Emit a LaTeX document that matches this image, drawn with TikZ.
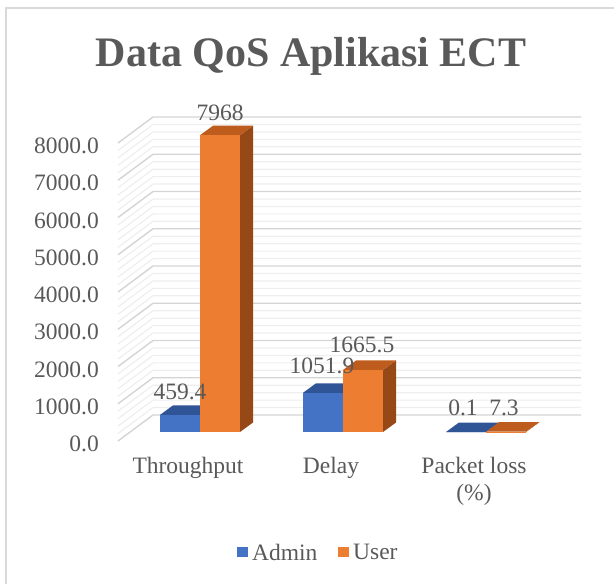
\documentclass[tikz,border=0pt]{standalone}
\usepackage{fontspec}
\setmainfont{Liberation Serif}
\definecolor{txt}{RGB}{89,89,89}
\definecolor{frame}{RGB}{217,217,217}
\definecolor{gmajor}{RGB}{212,212,212}
\definecolor{gminor}{RGB}{238,238,238}
\definecolor{bfront}{RGB}{68,114,196}
\definecolor{btop}{RGB}{47,85,151}
\definecolor{bside}{RGB}{38,68,120}
\definecolor{ofront}{RGB}{237,125,49}
\definecolor{otop}{RGB}{190,92,30}
\definecolor{oside}{RGB}{150,72,22}
\tikzset{
  lbl/.style={text=txt, font=\fontsize{23.5}{27}\selectfont, inner sep=0pt},
  ttl/.style={text=txt, font=\fontsize{42}{48}\selectfont\bfseries, inner sep=0pt},
  majorline/.style={draw=gmajor, line width=1.4pt},
  minorline/.style={draw=gminor, line width=1.2pt},
}
% one 3D column: #1 front-bottom-left x, #2 value, #3 front, #4 top, #5 side
\newcommand{\columnbar}[5]{%
  \pgfmathsetmacro{\hh}{#2*0.03725}%
  \pgfmathsetmacro{\xr}{#1+40}%
  \fill[#5] (\xr,432) -- (\xr+13,422.5) -- (\xr+13,422.5-\hh) -- (\xr,432-\hh) -- cycle;
  \fill[#4] (#1,432-\hh) -- (\xr,432-\hh) -- (\xr+13,422.5-\hh) -- (#1+13,422.5-\hh) -- cycle;
  \fill[#3] (#1,432) rectangle (\xr,432-\hh);
}
\begin{document}
\begin{tikzpicture}[x=1pt,y=-1pt]
\useasboundingbox (0,0) rectangle (614,584);
% chart frame (right and bottom sides lie past the page)
\draw[frame, line width=1.5pt] (6,620) -- (6,8) -- (640,8);

\node[ttl] (title) at (311,56) {Data QoS Aplikasi ECT};

% gridlines: left wall and back wall
\foreach \v in {0,200,...,8000}{
  \pgfmathsetmacro{\yf}{441-\v*0.03725}
  \pgfmathsetmacro{\yb}{415-\v*0.03725}
  \pgfmathtruncatemacro{\r}{mod(\v,1000)}
  \ifnum\r=0
    \draw[majorline] (118,\yf) -- (153,\yb) -- (581,\yb);
  \else
    \draw[minorline] (118,\yf) -- (153,\yb) -- (581,\yb);
  \fi
}

% axis values
\foreach \v/\t in {0/0.0,1000/1000.0,2000/2000.0,3000/3000.0,4000/4000.0,5000/5000.0,6000/6000.0,7000/7000.0,8000/8000.0}{
  \pgfmathsetmacro{\yf}{441-\v*0.03725}
  \node[lbl, anchor=east] (ax\v) at (99,\yf+3) {\t};
}

% columns
\columnbar{160}{459.4}{bfront}{btop}{bside}
\columnbar{200}{7968}{ofront}{otop}{oside}
\columnbar{303}{1051.9}{bfront}{btop}{bside}
\columnbar{343}{1665.5}{ofront}{otop}{oside}
\columnbar{446}{0.1}{bfront}{btop}{bside}
\columnbar{486}{7.3}{ofront}{otop}{oside}

% value labels
\node[lbl] (v1) at (180,392) {459.4};
\node[lbl] (v2) at (220,113) {7968};
\node[lbl] (v3) at (322,366) {1051.9};
\node[lbl] (v4) at (362,345) {1665.5};
\node[lbl] (v5) at (463,408) {0.1};
\node[lbl] (v6) at (504,408) {7.3};

% categories
\node[lbl] (c1) at (188,468) {Throughput};
\node[lbl] (c2) at (331,468) {Delay};
\node[lbl, align=center] (c3) at (474,481) {Packet loss\\(\%)};

% legend
\fill[bfront] (237,547) rectangle (248,557);
\node[lbl, anchor=west] (l1) at (252,552) {Admin};
\fill[ofront] (338,547) rectangle (349,557);
\node[lbl, anchor=west] (l2) at (353,552) {User};
\end{tikzpicture}
\end{document}
